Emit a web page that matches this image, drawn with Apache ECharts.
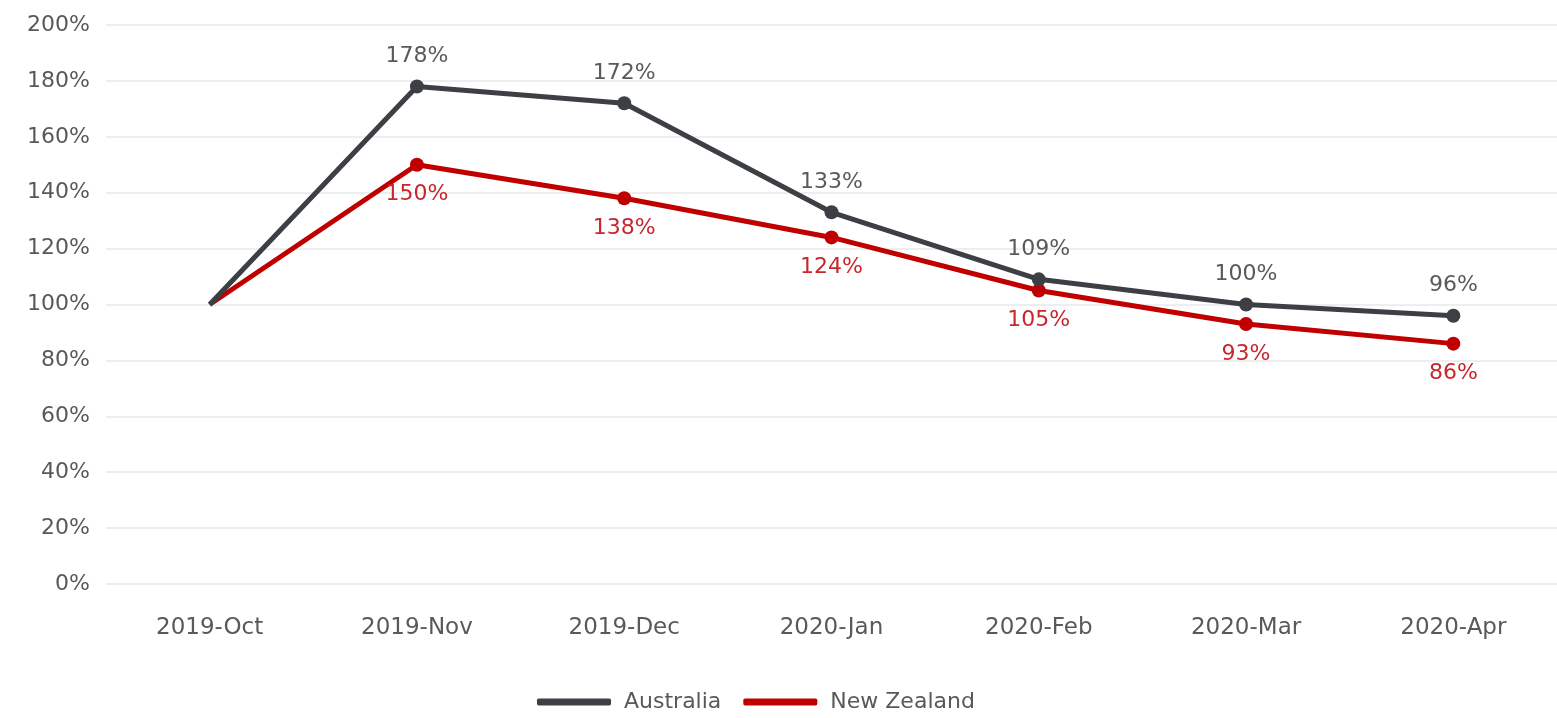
<!DOCTYPE html>
<html>
<head>
<meta charset="utf-8">
<title>Australia vs New Zealand</title>
<script src="https://cdn.jsdelivr.net/npm/echarts@6/dist/echarts.min.js"></script>
<style>
  html, body { margin: 0; padding: 0; background: #fff; }
  #chart { width: 1557px; height: 718px; }
</style>
</head>
<body>
<div id="chart"></div>
<script>
  // data
  const months = ["2019-Oct", "2019-Nov", "2019-Dec", "2020-Jan", "2020-Feb", "2020-Mar", "2020-Apr"];
  const australia = [100, 178, 172, 133, 109, 100, 96];
  const newZealand = [100, 150, 138, 124, 105, 93, 86];

  const GREY = "#3c3f43", RED = "#c00000";
  const FONT = "DejaVu Sans";

  // first point (the 100% base) has no marker and no label
  const pts = (arr) => arr.map((v, i) => i === 0
    ? { value: v, symbol: "none", label: { show: false } }
    : v);

  const chart = echarts.init(document.getElementById("chart"), null, { renderer: "canvas" });
  chart.setOption({
    animation: false,
    textStyle: { fontFamily: FONT },
    grid: { left: 106, right: -33, top: 25, bottom: 134 },
    xAxis: {
      type: "category", data: months, boundaryGap: true,
      axisLine: { show: false }, axisTick: { show: false },
      axisLabel: { color: "#595959", fontSize: 23, margin: 33, fontFamily: FONT }
    },
    yAxis: {
      type: "value", min: 0, max: 200, interval: 20,
      axisLabel: { color: "#595959", fontSize: 22, margin: 16, formatter: "{value}%", fontFamily: FONT },
      splitLine: { lineStyle: { color: "#eeeeee", width: 2 } },
      axisLine: { show: false }, axisTick: { show: false }
    },
    legend: {
      bottom: 0, left: 532, itemWidth: 74, itemHeight: 7, itemGap: 22,
      icon: "roundRect",
      textStyle: { color: "#595959", fontSize: 22, fontFamily: FONT, padding: [0, 0, 0, 8] },
      data: ["Australia", "New Zealand"]
    },
    series: [
      {
        name: "Australia", type: "line", data: pts(australia),
        symbol: "circle", symbolSize: 14, z: 3,
        lineStyle: { color: GREY, width: 5 }, itemStyle: { color: GREY },
        label: { show: true, position: "top", distance: 12, color: "#5a5a5a", fontSize: 22, fontFamily: FONT, formatter: "{c}%" }
      },
      {
        name: "New Zealand", type: "line", data: pts(newZealand),
        symbol: "circle", symbolSize: 14, z: 2,
        lineStyle: { color: RED, width: 5 }, itemStyle: { color: RED },
        label: { show: true, position: "bottom", distance: 12, color: "#c8262d", fontSize: 22, fontFamily: FONT, formatter: "{c}%" }
      }
    ]
  });
</script>
</body>
</html>
